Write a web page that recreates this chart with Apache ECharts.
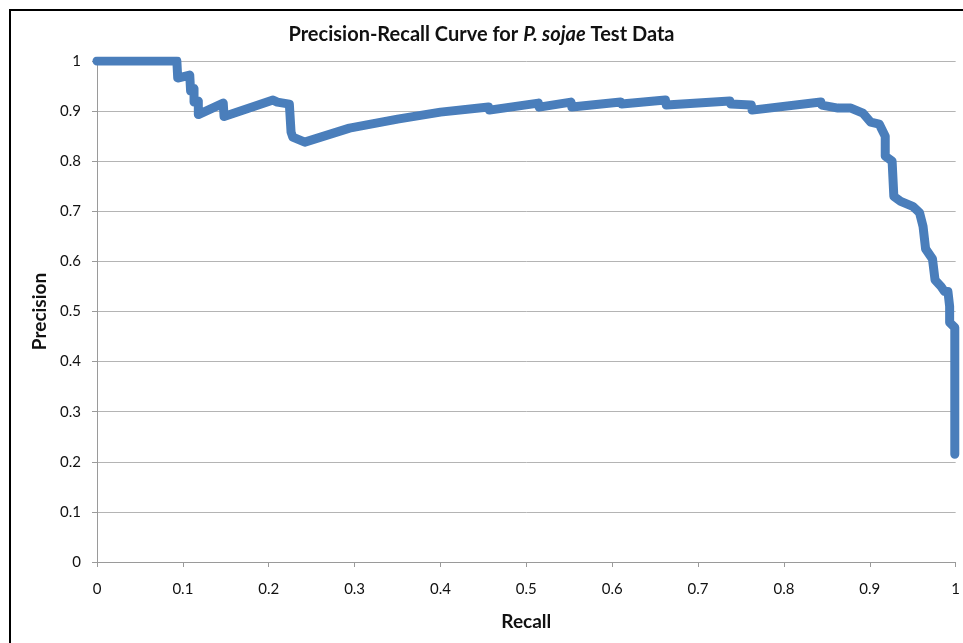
<!DOCTYPE html>
<html>
<head>
<meta charset="utf-8">
<script src="https://cdn.jsdelivr.net/npm/echarts@6/dist/echarts.min.js"></script>
<style>
  html, body { margin: 0; padding: 0; background: #fff; }
  #frame { position: absolute; left: 9px; top: 9px; width: 954px; height: 634px;
           border-top: 2px solid #000; border-left: 2px solid #000; }
  #main { position: absolute; left: 0; top: 0; width: 963px; height: 643px; }
</style>
</head>
<body>
<div id="frame"></div>
<div id="main"></div>
<script>
// recall / precision points
var recall = [
  0, 0.093, 0.094, 0.108, 0.109, 0.113, 0.113, 0.118, 0.118,
  0.147, 0.148, 0.205, 0.21, 0.224, 0.226, 0.228, 0.242,
  0.294, 0.35, 0.4, 0.456, 0.457, 0.514, 0.515, 0.552, 0.553,
  0.61, 0.611, 0.662, 0.663, 0.737, 0.738, 0.762, 0.763, 0.843, 0.844,
  0.863, 0.878, 0.892, 0.901, 0.911, 0.918, 0.918, 0.926, 0.928, 0.936,
  0.95, 0.958, 0.962, 0.965, 0.973, 0.976, 0.983, 0.987, 0.991,
  0.993, 0.993, 0.999, 0.999
];
var precision = [
  1, 1, 0.966, 0.972, 0.94, 0.945, 0.918, 0.92, 0.893,
  0.916, 0.889, 0.922, 0.918, 0.914, 0.858, 0.848, 0.838,
  0.866, 0.884, 0.898, 0.908, 0.902, 0.916, 0.908, 0.918, 0.908,
  0.918, 0.914, 0.922, 0.912, 0.92, 0.914, 0.912, 0.902, 0.918, 0.912,
  0.906, 0.906, 0.896, 0.878, 0.874, 0.85, 0.81, 0.8, 0.73, 0.72,
  0.71, 0.697, 0.67, 0.625, 0.605, 0.563, 0.55, 0.54, 0.54,
  0.51, 0.478, 0.468, 0.215
];
var xTicks = [0, 0.1, 0.2, 0.3, 0.4, 0.5, 0.6, 0.7, 0.8, 0.9, 1];

var points = [];
recall.map(function (r, i) { points.push([r, precision[i]]); });

var chart = echarts.init(document.getElementById('main'));
var font = 'Lato, "Open Sans", sans-serif';

var option = {
  backgroundColor: 'transparent',
  animation: false,
  title: {
    left: 'center',
    top: 20,
    text: '{b|Precision-Recall Curve for }{bi|P. sojae}{b| Test Data}',
    textStyle: {
      rich: {
        b: { fontFamily: font, fontWeight: 'bold', fontSize: 20, color: '#111' },
        bi: { fontFamily: font, fontWeight: 'bold', fontStyle: 'italic', fontSize: 20, color: '#111' }
      }
    }
  },
  grid: { left: 97, right: 5, top: 61, bottom: 81 },
  xAxis: {
    type: 'value',
    min: 0, max: 1, interval: 0.1,
    name: 'Recall',
    nameLocation: 'middle',
    nameGap: 50,
    nameTextStyle: { fontFamily: font, fontWeight: 'bold', fontSize: 19, color: '#111' },
    axisLine: { lineStyle: { color: '#9a9a9a', width: 1 } },
    axisTick: { show: true, length: 5, lineStyle: { color: '#9a9a9a' } },
    axisLabel: {
      margin: 20, fontFamily: font, fontSize: 15, color: '#111',
      formatter: function (v) { return String(+v.toFixed(1)); }
    },
    splitLine: { show: false }
  },
  yAxis: {
    type: 'value',
    min: 0, max: 1, interval: 0.1,
    name: 'Precision',
    nameLocation: 'middle',
    nameGap: 48,
    nameTextStyle: { fontFamily: font, fontWeight: 'bold', fontSize: 19, color: '#111' },
    axisLine: { show: true, lineStyle: { color: '#9a9a9a', width: 1 } },
    axisTick: { show: true, length: 5, lineStyle: { color: '#9a9a9a' } },
    axisLabel: {
      margin: 16, fontFamily: font, fontSize: 15, color: '#111',
      formatter: function (v) { return String(+v.toFixed(1)); }
    },
    splitLine: { show: true, lineStyle: { color: '#b4b4b4', width: 1 } }
  },
  series: [{
    type: 'line',
    data: points,
    showSymbol: false,
    lineStyle: { color: '#4a7ebb', width: 9, join: 'round', cap: 'round' },
    itemStyle: { color: '#4a7ebb' },
    z: 3
  }]
};
chart.setOption(option);
</script>
</body>
</html>
